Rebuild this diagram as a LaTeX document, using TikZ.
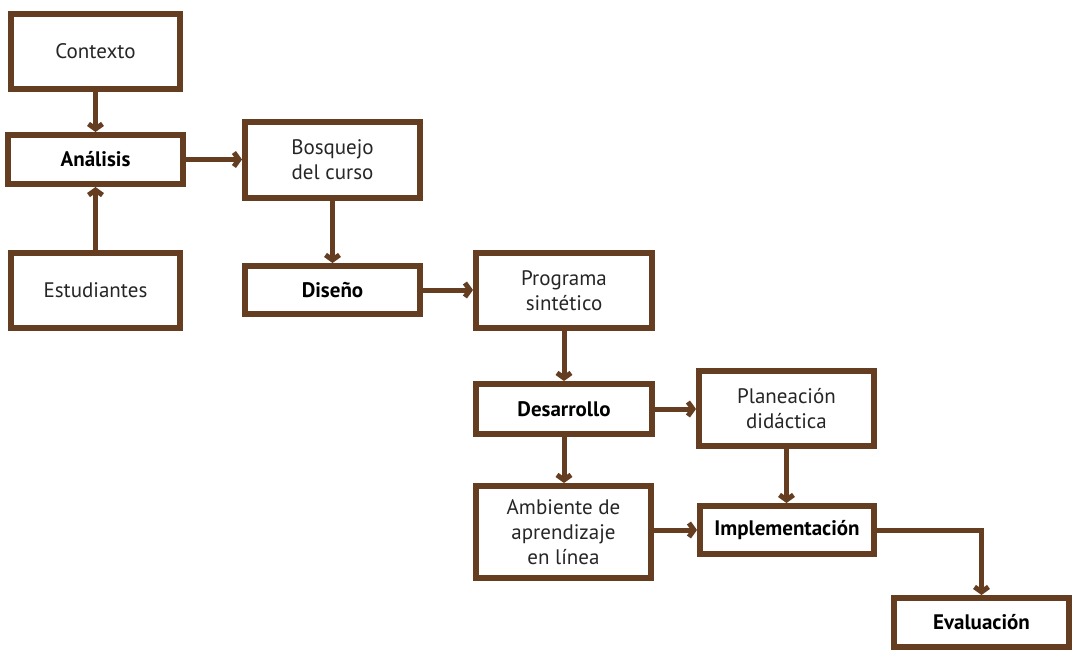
\documentclass[tikz,border=0pt]{standalone}
\usepackage{fontspec}
\setmainfont{PT Sans}
\usetikzlibrary{arrows.meta}
\definecolor{brn}{RGB}{101,62,33}
\tikzset{
  box/.style={draw=brn, line width=6pt, fill=white, inner sep=0pt, align=center,
    font=\fontsize{21}{25}\selectfont, text=black!85},
  bbox/.style={box, font=\fontsize{21}{25}\selectfont\bfseries, text=black},
  arr/.style={draw=brn, line width=5pt, -{Straight Barb[length=5pt,width=14pt]}},
}
\begin{document}
\begin{tikzpicture}[x=1pt,y=-1pt]
\useasboundingbox (0,0) rectangle (1075,656);
\node[box,  minimum width=169pt, minimum height=75pt] (ctx) at (95.5,51.5) {Contexto};
\node[bbox, minimum width=175pt, minimum height=49pt] (ana) at (95.5,159.5) {Análisis};
\node[box,  minimum width=169pt, minimum height=75pt] (est) at (95.5,290.5) {Estudiantes};
\node[box,  minimum width=175pt, minimum height=76pt] (bos) at (332.5,160) {Bosquejo\\del curso};
\node[bbox, minimum width=175pt, minimum height=48pt] (dis) at (332.5,290) {Diseño};
\node[box,  minimum width=176pt, minimum height=75pt] (pro) at (564,290.5) {Programa\\sintético};
\node[bbox, minimum width=176pt, minimum height=50pt] (des) at (564,409) {Desarrollo};
\node[box,  minimum width=175pt, minimum height=75pt] (pla) at (786.5,408.5) {Planeación\\didáctica};
\node[box,  minimum width=175pt, minimum height=92pt] (amb) at (563.5,532) {Ambiente de\\aprendizaje\\en línea};
\node[bbox, minimum width=174pt, minimum height=48pt] (imp) at (787,530) {Implementación};
\node[bbox, minimum width=175pt, minimum height=49pt] (eva) at (981.5,622.5) {Evaluación};
\coordinate (turn) at (eva.north |- imp.east);
\draw[arr] (ctx.south) -- (ctx.south |- ana.north);
\draw[arr] (est.north) -- (est.north |- ana.south);
\draw[arr] (ana.east) -- (ana.east -| bos.west);
\draw[arr] (bos.south) -- (bos.south |- dis.north);
\draw[arr] (dis.east) -- (dis.east -| pro.west);
\draw[arr] (pro.south) -- (pro.south |- des.north);
\draw[arr] (des.east) -- (des.east -| pla.west);
\draw[arr] (des.south) -- (des.south |- amb.north);
\draw[arr] (pla.south) -- (pla.south |- imp.north);
\draw[arr] (amb.east |- imp.east) -- (imp.west);
\draw[arr] (imp.east) -- (turn) -- (eva.north);
\end{tikzpicture}
\end{document}
